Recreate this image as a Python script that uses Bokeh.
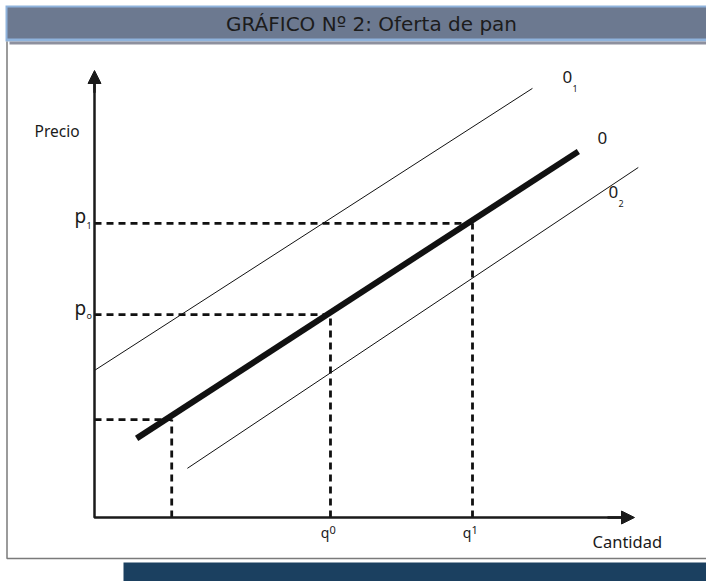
from bokeh.plotting import figure
from bokeh.models import Range1d, Arrow, NormalHead
from bokeh.core.properties import value
from bokeh.embed import file_html
from bokeh.resources import INLINE

# ---- chart data (quantity / price units) ----
supply_q = [0.78, 8.96]
supply_p = [1.77, 8.19]
o1_q = [0.0, 8.11]
o1_p = [3.29, 9.60]
o2_q = [1.72, 10.07]
o2_p = [1.10, 7.83]
ref_q = [1.43, 4.37, 7.00]
ref_p = [2.19, 4.54, 6.58]
axis_q_max = 10.0
axis_p_max = 10.0
title_text = "GRÁFICO Nº 2: Oferta de pan"

# ---- layout helpers (pixel -> data) ----
X0, XS = 94.0, 54.0
Y0, YS = 517.0, 44.7
def xd(px):
    return (px - X0) / XS
def yd(py):
    return (Y0 - py) / YS

W, H = 706, 581
OX, OY = 0, 0
p = figure(width=W, height=H, output_backend="svg", toolbar_location=None,
           x_range=Range1d(xd(OX), xd(OX + W)), y_range=Range1d(yd(OY + H), yd(OY)),
           x_axis_type=None, y_axis_type=None, min_border=0)
p.grid.visible = False
p.outline_line_color = None
p.background_fill_color = "white"
p.border_fill_color = "white"

# ---- decoration: title bar, frame, bottom bar ----
p.quad(left=[xd(5)], right=[xd(720)], top=[yd(5)], bottom=[yd(41)], fill_color="#8fb3dc", line_color=None)
p.quad(left=[xd(7)], right=[xd(720)], top=[yd(7)], bottom=[yd(38)], fill_color="#6c7990", line_color=None)
p.quad(left=[xd(9)], right=[xd(720)], top=[yd(41)], bottom=[yd(44)], fill_color="#8d909e", line_color=None)
p.line(x=[xd(6.5), xd(6.5), xd(720)], y=[yd(41), yd(558), yd(558)], line_color="#7a7a7a", line_width=1.5)
p.quad(left=[xd(123)], right=[xd(720)], top=[yd(562)], bottom=[yd(600)], fill_color="#1b4060", line_color=None)
p.text(x=[xd(371)], y=[yd(23)], text=[title_text], text_font=value("DejaVu Sans"),
       text_font_size="20px", text_color="#1c1c1c", text_align="center", text_baseline="middle")

# ---- reference dashed lines ----
hx = [[0, q] for q in ref_q]
hy = [[pp, pp] for pp in ref_p]
vx = [[q, q] for q in ref_q]
vy = [[0, pp] for pp in ref_p]
p.multi_line(xs=hx + vx, ys=hy + vy, line_color="#111111", line_width=2.8, line_dash="7 5")

# ---- supply curves ----
p.line(o1_q, o1_p, line_color="#111111", line_width=1)
p.line(o2_q, o2_p, line_color="#111111", line_width=1)
p.line(supply_q, supply_p, line_color="#111111", line_width=6)

# ---- axes with arrows ----
p.line(x=[0, 0, axis_q_max - 0.2], y=[axis_p_max - 0.25, 0, 0], line_color="#1a1a1a", line_width=2.5)
p.add_layout(Arrow(end=NormalHead(size=13, fill_color="#1a1a1a", line_color="#1a1a1a"),
                   x_start=0, y_start=axis_p_max - 0.5, x_end=0, y_end=axis_p_max,
                   line_color="#1a1a1a", line_width=2.5))
p.add_layout(Arrow(end=NormalHead(size=13, fill_color="#1a1a1a", line_color="#1a1a1a"),
                   x_start=axis_q_max - 0.5, y_start=0, x_end=axis_q_max, y_end=0,
                   line_color="#1a1a1a", line_width=2.5))

font = value("Noto Sans")
def label(x, y, t, size, align="left"):
    p.text(x=[x], y=[y], text=[t], text_font=font, text_font_size=size,
           text_color="#1a1a1a", text_align=align, text_baseline="middle")

label(xd(34), yd(130), "Precio", "15.5px")
# p labels
label(xd(74), yd(215), "p", "19px")
label(xd(86), yd(225), "1", "9px")
label(xd(74), yd(307), "p", "19px")
label(xd(86), yd(315), "o", "9px")
# q labels
label(ref_q[1] - 0.02, yd(532), "q", "14px", "right")
label(ref_q[1] - 0.02, yd(529), "0", "11px")
label(ref_q[2] - 0.02, yd(532), "q", "14px", "right")
label(ref_q[2] - 0.02, yd(529), "1", "11px")
label(xd(592), yd(541), "Cantidad", "16.5px")
# curve names
label(xd(562), yd(76), "0", "17px")
label(xd(572), yd(88), "1", "9px")
label(xd(597), yd(137), "0", "17px")
label(xd(608), yd(191), "0", "17px")
label(xd(618), yd(203), "2", "9px")

open("out.html", "w").write(file_html(p, INLINE))
